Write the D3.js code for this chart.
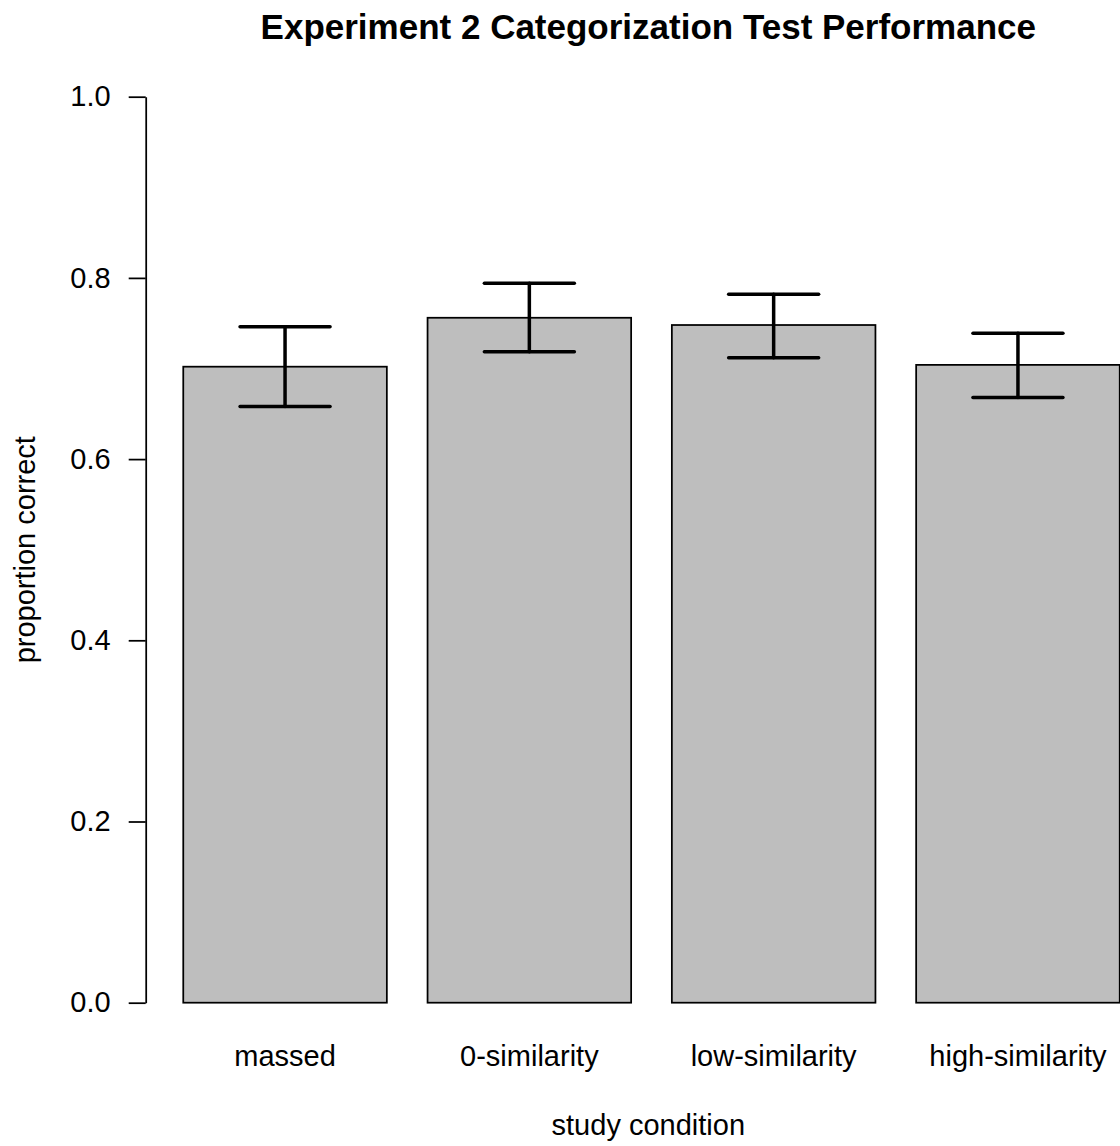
<!DOCTYPE html>
<html>
<head>
<meta charset="utf-8">
<script src="https://cdn.jsdelivr.net/npm/d3@7"></script>
<style>
  html, body { margin: 0; padding: 0; background: #fff; }
  svg { display: block; font-family: "Liberation Sans", Arial, Helvetica, sans-serif; }
</style>
</head>
<body>
<svg id="chart" width="1120" height="1146"></svg>
<script>
// ---- data ----
const categories = ["massed", "0-similarity", "low-similarity", "high-similarity"];
const means = [0.702, 0.756, 0.748, 0.704];
const upper = [0.746, 0.794, 0.782, 0.739];
const lower = [0.658, 0.7185, 0.712, 0.668];
const yTicks = [0.0, 0.2, 0.4, 0.6, 0.8, 1.0];
const titleText = "Experiment 2 Categorization Test Performance";
const xLabel = "study condition";
const yLabel = "proportion correct";

// ---- layout ----
const plotLeft = 139.3, plotRight = 1157.3;
const yTop = 96.7, yBottom = 1002.7;
const fs = 29;

const svg = d3.select("#chart");

const x = d3.scaleBand()
  .domain(categories)
  .range([162.9, 1140.1])
  .paddingInner(1 / 6)
  .paddingOuter(1 / 12);

const y = d3.scaleLinear().domain([0, 1]).range([yBottom, yTop]);

// bars
svg.append("g").selectAll("rect")
  .data(categories)
  .join("rect")
  .attr("x", d => x(d))
  .attr("y", (d, i) => y(means[i]))
  .attr("width", x.bandwidth())
  .attr("height", (d, i) => y(0) - y(means[i]))
  .attr("fill", "#bebebe")
  .attr("stroke", "#000")
  .attr("stroke-width", 1.75);

// error bars
const capHalf = 45;
const eb = svg.append("g")
  .attr("stroke", "#000")
  .attr("stroke-width", 3.5)
  .attr("stroke-linecap", "round")
  .attr("fill", "none");
categories.forEach((c, i) => {
  const cx = x(c) + x.bandwidth() / 2;
  eb.append("line").attr("x1", cx).attr("x2", cx).attr("y1", y(lower[i])).attr("y2", y(upper[i]));
  eb.append("line").attr("x1", cx - capHalf).attr("x2", cx + capHalf).attr("y1", y(upper[i])).attr("y2", y(upper[i]));
  eb.append("line").attr("x1", cx - capHalf).attr("x2", cx + capHalf).attr("y1", y(lower[i])).attr("y2", y(lower[i]));
});

// y axis
const yAxis = d3.axisLeft(y)
  .tickValues(yTicks)
  .tickFormat(d3.format(".1f"))
  .tickSize(17)
  .tickSizeOuter(0)
  .tickPadding(18);
const gy = svg.append("g")
  .attr("transform", "translate(145.7,0)")
  .call(yAxis);
gy.select(".domain").attr("stroke", "#000").attr("stroke-width", 1.75);
gy.selectAll(".tick line").attr("stroke", "#000").attr("stroke-width", 1.75);
gy.selectAll(".tick text")
  .attr("font-size", fs)
  .attr("fill", "#000")
  .attr("font-family", "'Liberation Sans', Arial, sans-serif");

// x category labels
const xAxis = d3.axisBottom(x).tickSize(0).tickPadding(0);
const gx = svg.append("g").call(xAxis);
gx.select(".domain").remove();
gx.selectAll(".tick text")
  .attr("y", 1066)
  .attr("dy", null)
  .attr("font-size", fs)
  .attr("fill", "#000")
  .attr("font-family", "'Liberation Sans', Arial, sans-serif");

// title
svg.append("text")
  .attr("x", (plotLeft + plotRight) / 2)
  .attr("y", 39)
  .attr("text-anchor", "middle")
  .attr("font-size", 35)
  .attr("font-weight", "bold")
  .attr("fill", "#000")
  .text(titleText);

// x label
svg.append("text")
  .attr("x", (plotLeft + plotRight) / 2)
  .attr("y", 1135)
  .attr("text-anchor", "middle")
  .attr("font-size", fs)
  .attr("fill", "#000")
  .text(xLabel);

// y label
svg.append("text")
  .attr("transform", `translate(35,${(yTop + yBottom) / 2}) rotate(-90)`)
  .attr("text-anchor", "middle")
  .attr("font-size", fs)
  .attr("fill", "#000")
  .text(yLabel);
</script>
</body>
</html>
